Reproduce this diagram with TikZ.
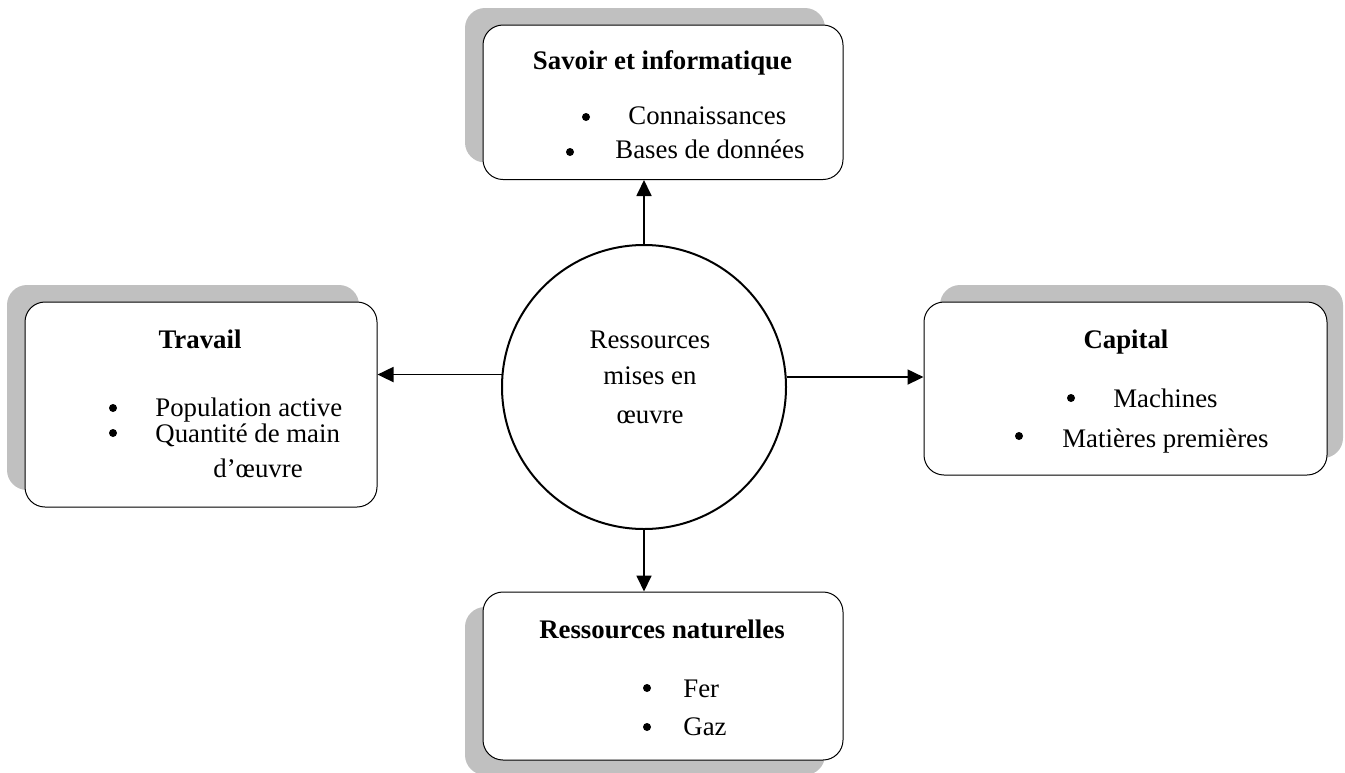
\documentclass[tikz,border=0pt]{standalone}
\usepackage{fontspec}
\setmainfont{Liberation Serif}
\usetikzlibrary{arrows.meta,shadows}
\definecolor{shade}{RGB}{192,192,192}
\begin{document}
\begin{tikzpicture}[x=0.5pt,y=-0.5pt,
  card/.style={draw=black, line width=0.5pt, fill=white, rounded corners=10pt, inner sep=0pt},
  shadow ul/.style={general shadow={fill=shade, shadow xshift=-9pt, shadow yshift=8.5pt}},
  shadow ur/.style={general shadow={fill=shade, shadow xshift=8pt, shadow yshift=8.5pt}},
  shadow dl/.style={general shadow={fill=shade, shadow xshift=-9pt, shadow yshift=-7.5pt}},
  hub/.style={circle, draw=black, line width=1pt, fill=white, inner sep=0pt, minimum size=142pt},
  txt/.style={font=\fontsize{13.4pt}{16pt}\selectfont, inner sep=0pt, anchor=base west},
  ctxt/.style={font=\fontsize{13.4pt}{16pt}\selectfont, inner sep=0pt, anchor=base},
  ttl/.style={font=\fontsize{13.4pt}{16pt}\selectfont\bfseries, inner sep=0pt, anchor=base},
  dot/.style={circle, fill=black, inner sep=0pt, minimum size=4pt},
  conn/.style={line width=0.9pt, -{Triangle[length=8pt,width=7.5pt]}}]
\useasboundingbox (0,0) rectangle (1345,772);

% the four resource cards
\node[card, shadow ul, minimum width=180pt, minimum height=77.25pt] (sav) at (663,102.25) {};
\node[card, shadow ul, minimum width=176pt, minimum height=102.5pt] (trav) at (201,404.5) {};
\node[card, shadow ur, minimum width=201.5pt, minimum height=86.5pt] (cap) at (1125.5,388.5) {};
\node[card, shadow dl, minimum width=180pt, minimum height=84pt] (nat) at (663,676) {};

% central circle
\node[hub] (c) at (644,387) {};
\node[ctxt] (c1) at (650,348) {Ressources};
\node[ctxt] (c2) at (650,384) {mises en};
\node[ctxt] (c3) at (650,423) {œuvre};

% Savoir et informatique
\node[ttl] (savt) at (662.5,69) {Savoir et informatique};
\node[dot] (savd1) at (586,117) {};
\node[txt] (sava) at (628,124) {Connaissances};
\node[dot] (savd2) at (570,152) {};
\node[txt] (savb) at (615,158) {Bases de données};

% Travail
\node[ttl] (travt) at (200,348) {Travail};
\node[dot] (travd1) at (113,408) {};
\node[txt] (trava) at (155,416) {Population active};
\node[dot] (travd2) at (113,433) {};
\node[txt] (travb) at (155,442) {Quantité de main};
\node[txt] (travc) at (213,477) {d’œuvre};

% Capital
\node[ttl] (capt) at (1126,348) {Capital};
\node[dot] (capd1) at (1071,398) {};
\node[txt] (capa) at (1113,407) {Machines};
\node[dot] (capd2) at (1019,436) {};
\node[txt] (capb) at (1062,447) {Matières premières};

% Ressources naturelles
\node[ttl] (natt) at (662,638) {Ressources naturelles};
\node[dot] (natd1) at (647,688) {};
\node[txt] (nata) at (683,697) {Fer};
\node[dot] (natd2) at (647,727) {};
\node[txt] (natb) at (683,735) {Gaz};

% connectors
\draw[conn] (c.north) -- (c.north |- sav.south);
\draw[conn] (c.south) -- (c.south |- nat.north);
\draw[conn] (c.175.6) -- (c.175.6 -| trav.east);
\draw[conn] (c.4.4) -- (c.4.4 -| cap.west);
\end{tikzpicture}
\end{document}
